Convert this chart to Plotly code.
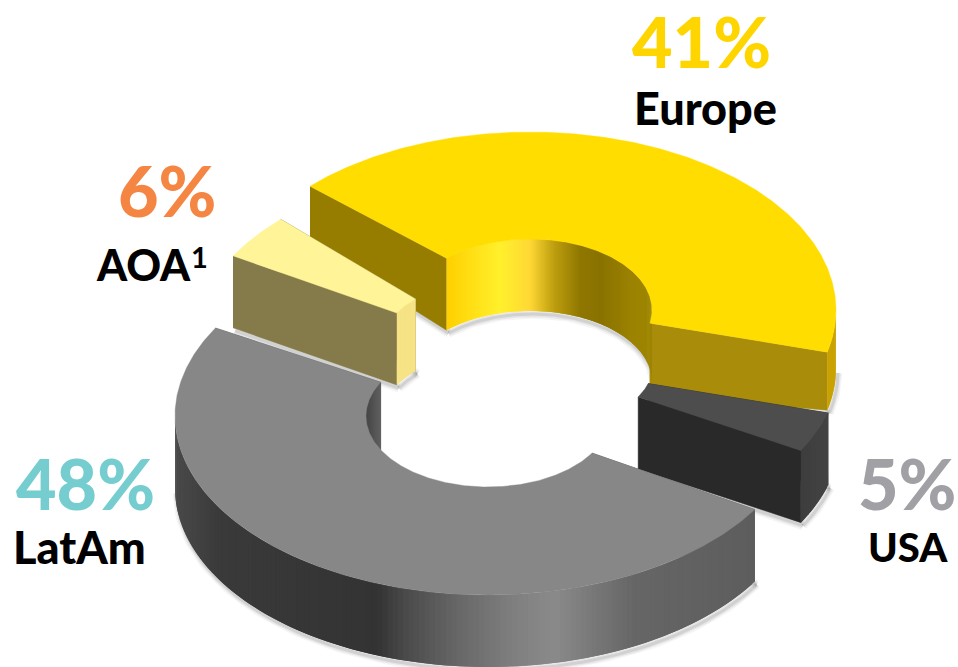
import math
import plotly.graph_objects as go

# Revenue split by region
regions = ["LatAm", "AOA", "Europe", "USA"]
shares = [48, 6, 41, 5]
share_labels = ["48%", "6%", "41%", "5%"]
region_labels = ["LatAm", "AOA", "Europe", "USA"]
footnote_mark = "1"

# Ring geometry, in pixels of the 958x667 canvas
WIDTH, HEIGHT = 958, 667
centre_x = {"LatAm": 488, "AOA": 502, "Europe": 530, "USA": 532}
centre_y = {"LatAm": 416, "AOA": 349, "Europe": 310, "USA": 362}
outer_rx = {"LatAm": 313, "AOA": 312, "Europe": 306, "USA": 309}
outer_ry = {"LatAm": 179, "AOA": 184, "Europe": 178, "USA": 180}
inner_rx, inner_ry = 122, 71
outer_depth = {"LatAm": 72, "AOA": 72, "Europe": 58, "USA": 72}
inner_depth = {"LatAm": 72, "AOA": 72, "Europe": 72, "USA": 72}
START_ANGLE = 32.7
SLICE_GAP = 1.0
# Perspective trim of the four corners: outer start, outer end, inner start, inner end (degrees)
corner_trim = {
    "LatAm": (0, 1, 0, 0),
    "AOA": (0, 0, 0, 0),
    "Europe": (-2.8, -2, 0, -5),
    "USA": (-1.2, 0, 0, 0),
}

# Flat colours per slice
top_colour = {"LatAm": "#878787", "AOA": "#FFF497", "Europe": "#FFDD00", "USA": "#4D4D4D"}
start_cut_colour = {"LatAm": "#5D5D5D", "AOA": "#857B4A", "Europe": "#967D00", "USA": "#292929"}
end_cut_colour = {"LatAm": "#5D5D5D", "AOA": "#857B4A", "Europe": "#A98C0A", "USA": "#292929"}

# Wall shading: (cosine of the angle, hex colour) stops
outer_shading = {
    "LatAm": [(-1, "#4A4A4A"), (-0.86, "#3A3A3A"), (-0.355, "#333333"), (-0.265, "#4A4A4A"),
              (-0.09, "#686868"), (0.09, "#808080"), (0.214, "#8A8A8A"), (0.342, "#777777"),
              (0.466, "#666666"), (0.843, "#5D5D5D")],
    "AOA": [(-1, "#F5E385"), (1, "#F5E385")],
    "Europe": [(-1, "#C9A200"), (1, "#C9A200")],
    "USA": [(-1, "#3C3C3C"), (0.86, "#3C3C3C"), (1, "#474747")],
}
inner_shading = {
    "LatAm": [(-1, "#454545"), (-0.87, "#626262")],
    "AOA": [(-1, "#F5E385"), (1, "#F5E385")],
    "Europe": [(-0.68, "#FFD000"), (-0.246, "#FFF02C"), (0, "#FFD835"), (0.19, "#C0A010"),
               (0.41, "#8F7700"), (0.574, "#8A7200"), (0.844, "#9C8300"), (0.984, "#9E8500")],
    "USA": [(-1, "#3C3C3C"), (1, "#3C3C3C")],
}

# Label placement and styling
label_font = "Lato"
share_colour = {"LatAm": "#76CDD0", "AOA": "#F58542", "Europe": "#FFD500", "USA": "#A0A0A5"}
share_xy = {"LatAm": (85, 483), "AOA": (167, 190), "Europe": (701, 41), "USA": (907, 483)}
name_xy = {"LatAm": (79, 547), "AOA": (143, 264), "Europe": (705, 108), "USA": (908, 547)}
name_size = {"LatAm": 45, "AOA": 43, "Europe": 45, "USA": 40}
footnote_xy = (199, 256)


def foreshorten(theta):
    """Tilted-view correction from a true slice angle to the angle on the drawn ellipse."""
    return (theta
            + 7.0 * math.sin(math.radians(2 * (theta + 57.3)))
            + 2.2 * math.cos(math.radians(theta - 210)))


def hex_rgb(value):
    return tuple(int(value[i:i + 2], 16) for i in (1, 3, 5))


def shade(stops, c):
    if c <= stops[0][0]:
        return stops[0][1]
    for (c0, col0), (c1, col1) in zip(stops, stops[1:]):
        if c <= c1:
            t = (c - c0) / (c1 - c0)
            a, b = hex_rgb(col0), hex_rgb(col1)
            return "rgb({},{},{})".format(*(round(p + (q - p) * t) for p, q in zip(a, b)))
    return stops[-1][1]


def frange(a, b, step=1.0):
    n = max(2, int(abs(b - a) / step) + 1)
    return [a + (b - a) * i / (n - 1) for i in range(n)]


def point(name, phi, outer=True):
    rx = outer_rx[name] if outer else inner_rx
    ry = outer_ry[name] if outer else inner_ry
    return (centre_x[name] + rx * math.cos(math.radians(phi)),
            centre_y[name] + ry * math.sin(math.radians(phi)))


fig = go.Figure()


def polygon(xs, ys, colour, edge=0.0):
    fig.add_trace(go.Scatter(x=xs, y=ys, mode="lines", fill="toself", fillcolor=colour,
                             line=dict(color=colour, width=edge), hoverinfo="skip",
                             showlegend=False))


def soft_line(xs, ys):
    # Soft drop shadow built from stacked translucent strokes
    for width, alpha in ((9, 0.05), (6, 0.08), (3, 0.12)):
        fig.add_trace(go.Scatter(x=[x + 2 for x in xs], y=[y + 3 for y in ys], mode="lines",
                                 line=dict(color=f"rgba(60,60,60,{alpha})", width=width),
                                 hoverinfo="skip", showlegend=False))


def wall(name, a, b, outer, stops, depth):
    # Vertical wall painted as overlapping strips, each one running under the next
    if b <= a:
        return
    angles = frange(a, b)
    for i, (p, q) in enumerate(zip(angles, angles[1:])):
        stop = angles[min(i + 2, len(angles) - 1)]
        ring = [point(name, t, outer) for t in frange(p, stop, 0.5)]
        xs = [x for x, _ in ring] + [x for x, _ in reversed(ring)]
        ys = [y for _, y in ring] + [y + depth for _, y in reversed(ring)]
        polygon(xs, ys, shade(stops, math.cos(math.radians((p + q) / 2))))


def draw_slice(name, a, b):
    d_out, d_in = outer_depth[name], inner_depth[name]
    trim = corner_trim[name]
    oa, ob, ia, ib = a + trim[0], b + trim[1], a + trim[2], b + trim[3]

    # Shadow under the lower edges, laid down first so the body covers its inner half
    front = [p for p in frange(oa, ob) if 0 <= p % 360 <= 180]
    if front:
        pts = [point(name, p) for p in front]
        soft_line([x for x, _ in pts], [y + d_out for _, y in pts])
    back = [p for p in frange(ia, ib) if 180 <= p % 360 < 360]
    if back:
        pts = [point(name, p, False) for p in back]
        soft_line([x for x, _ in pts], [y + d_in for _, y in pts])
    for po, pi in ((oa, ia), (ob, ib)):
        xo, yo = point(name, po)
        xi, yi = point(name, pi, False)
        soft_line([xo, xi], [yo + d_out, yi + d_in])

    # Radial cut faces
    for po, pi, colour in ((oa, ia, start_cut_colour[name]), (ob, ib, end_cut_colour[name])):
        xo, yo = point(name, po)
        xi, yi = point(name, pi, False)
        polygon([xo, xi, xi, xo], [yo, yi, yi + d_in, yo + d_out], colour, edge=0.5)

    # Far side of the hole
    for k in (0, 360, -360):
        wall(name, max(ia + k, 180), min(ib + k, 360), False, inner_shading[name], d_in)
    # Near side of the rim
    for k in (0, -360):
        wall(name, max(oa + k, 0), min(ob + k, 180), True, outer_shading[name], d_out)

    # Top face
    outer_pts = [point(name, p) for p in frange(oa, ob, 0.5)]
    inner_pts = [point(name, p, False) for p in frange(ib, ia, 0.5)]
    pts = outer_pts + inner_pts
    polygon([x for x, _ in pts] + [pts[0][0]], [y for _, y in pts] + [pts[0][1]],
            top_colour[name], edge=0.4)


# Slice angles follow the shares cumulatively, then get the view correction
angles = {}
running = START_ANGLE
for region, share in zip(regions, shares):
    sweep = share * 3.6
    angles[region] = (foreshorten(running) + SLICE_GAP, foreshorten(running + sweep) - SLICE_GAP)
    running += sweep

# Back-to-front paint order
for region in ["Europe", "AOA", "USA", "LatAm"]:
    draw_slice(region, *angles[region])

for region, share_text, name_text in zip(regions, share_labels, region_labels):
    sx, sy = share_xy[region]
    nx, ny = name_xy[region]
    fig.add_annotation(x=sx, y=sy, text=share_text, showarrow=False, xanchor="center", yanchor="middle",
                       font=dict(family=label_font, size=70, color=share_colour[region], weight=900))
    fig.add_annotation(x=nx, y=ny, text=name_text, showarrow=False, xanchor="center", yanchor="middle",
                       font=dict(family=label_font, size=name_size[region], color="#000000", weight=900))
fig.add_annotation(x=footnote_xy[0], y=footnote_xy[1], text=footnote_mark, showarrow=False,
                   xanchor="center", yanchor="middle",
                   font=dict(family=label_font, size=29, color="#000000", weight=700))

fig.update_layout(
    width=WIDTH, height=HEIGHT,
    margin=dict(l=0, r=0, t=0, b=0),
    paper_bgcolor="white", plot_bgcolor="white",
    showlegend=False,
    xaxis=dict(range=[0, WIDTH], visible=False, fixedrange=True),
    yaxis=dict(range=[HEIGHT, 0], visible=False, fixedrange=True),
)
fig.write_html("out.html", config={"displayModeBar": False})
